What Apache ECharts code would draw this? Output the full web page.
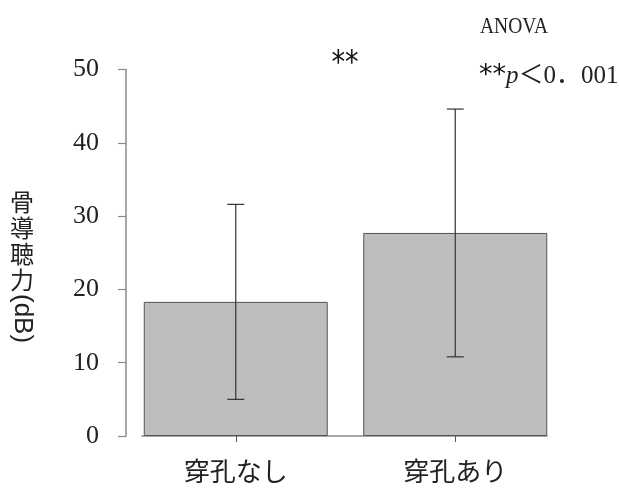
<!DOCTYPE html>
<html>
<head>
<meta charset="utf-8">
<script src="https://cdn.jsdelivr.net/npm/echarts@6/dist/echarts.min.js"></script>
<style>
  html, body { margin: 0; padding: 0; background: #fff; }
  #chart { width: 619px; height: 491px; }
</style>
</head>
<body>
<div id="chart"></div>
<script>
// Bone-conduction hearing level by perforation group (mean ± SD)
const categories = ['穿孔なし', '穿孔あり'];
const means = [18.3, 27.7];
const sds = [13.3, 16.9];
const yMin = 0, yMax = 50, yStep = 10;

const AXIS = '#8a8a8a';
const SERIF = '"Liberation Serif", "Noto Sans CJK JP", serif';
const JP = '"Noto Sans CJK JP", sans-serif';
const STAR = '"DejaVu Sans"';

const errorData = categories.map((c, i) => [i, means[i] - sds[i], means[i] + sds[i]]);

const chart = echarts.init(document.getElementById('chart'), null, { renderer: 'canvas' });

chart.setOption({
  animation: false,
  grid: [
    { left: 126, top: 69.5, width: 439, height: 366.5 },
    // narrower grid that only carries the baseline under the bars
    { left: 142, top: 69.5, width: 405, height: 366.5 }
  ],
  xAxis: [
    {
      type: 'category', gridIndex: 0, data: categories,
      axisLine: { show: false },
      axisTick: { show: true, alignWithLabel: true, length: 6, lineStyle: { color: '#555' } },
      axisLabel: { margin: 22, fontFamily: JP, fontSize: 26, color: '#222' }
    },
    {
      type: 'value', gridIndex: 1, min: 0, max: 1,
      axisLine: { show: true, lineStyle: { color: AXIS, width: 1.5 } },
      axisTick: { show: false }, axisLabel: { show: false }, splitLine: { show: false }
    }
  ],
  yAxis: [
    {
      type: 'value', gridIndex: 0, min: yMin, max: yMax, interval: yStep,
      axisLine: { show: true, lineStyle: { color: AXIS, width: 1.5 } },
      axisTick: { show: true, length: 8, lineStyle: { color: AXIS, width: 1.2 } },
      axisLabel: { margin: 27, fontFamily: SERIF, fontSize: 26, color: '#222' },
      splitLine: { show: false }
    },
    { type: 'value', gridIndex: 1, min: yMin, max: yMax, show: false }
  ],
  series: [
    {
      type: 'bar', xAxisIndex: 0, yAxisIndex: 0,
      data: means, barWidth: 184,
      itemStyle: { color: '#bebebe', borderColor: '#555', borderWidth: 1 }
    },
    {
      type: 'custom', xAxisIndex: 0, yAxisIndex: 0,
      data: errorData,
      z: 10,
      renderItem: function (params, api) {
        const x = api.value(0);
        const lo = api.coord([x, api.value(1)]);
        const hi = api.coord([x, api.value(2)]);
        const half = 8.5;
        const st = { stroke: '#333', lineWidth: 1.2 };
        return {
          type: 'group',
          children: [
            { type: 'line', shape: { x1: hi[0], y1: hi[1], x2: lo[0], y2: lo[1] }, style: st },
            { type: 'line', shape: { x1: hi[0] - half, y1: hi[1], x2: hi[0] + half, y2: hi[1] }, style: st },
            { type: 'line', shape: { x1: lo[0] - half, y1: lo[1], x2: lo[0] + half, y2: lo[1] }, style: st }
          ]
        };
      }
    }
  ],
  graphic: [
    {
      type: 'text', x: 22, y: 189,
      style: { text: '骨\n導\n聴\n力', font: '24px "Noto Sans CJK JP"', lineHeight: 26, align: 'center', verticalAlign: 'top', fill: '#222' }
    },
    {
      type: 'text', x: 22, y: 294, rotation: -Math.PI / 2,
      style: { text: '(dB)', font: '26px "Liberation Sans"', align: 'left', verticalAlign: 'middle', fill: '#222' }
    },
    {
      type: 'text', x: 345, y: 64, scaleX: 0.85,
      style: { text: '**', font: '32px ' + STAR, align: 'center', verticalAlign: 'middle', fill: '#111' }
    },
    {
      type: 'text', x: 480, y: 27, scaleX: 0.85,
      style: { text: 'ANOVA', font: '23px "Liberation Serif"', align: 'left', verticalAlign: 'middle', fill: '#222' }
    },
    {
      type: 'text', x: 479, y: 76,
      style: {
        text: '{a|**}{i|p}{s|＜0．001}',
        align: 'left', verticalAlign: 'middle',
        rich: {
          a: { fontFamily: STAR, fontSize: 27, fill: '#111', padding: [0, 0, 0, 0] },
          s: { fontFamily: SERIF, fontSize: 25, fill: '#222' },
          i: { fontFamily: SERIF, fontSize: 25, fontStyle: 'italic', fill: '#222' }
        }
      }
    }
  ]
});
</script>
</body>
</html>
